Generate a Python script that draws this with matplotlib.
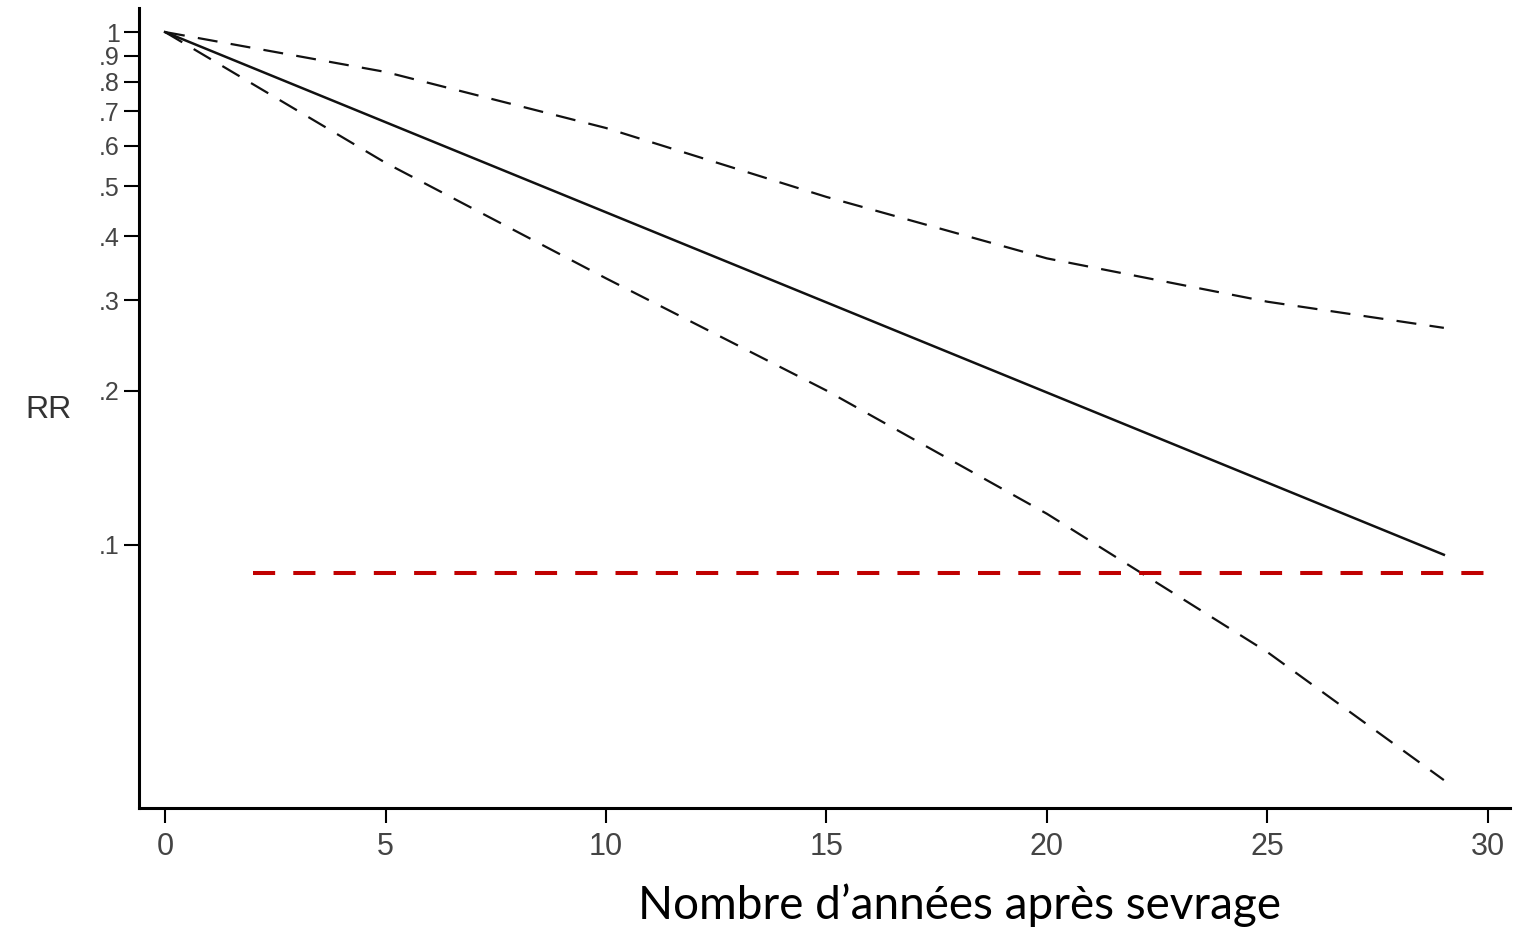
import matplotlib.pyplot as plt

# Years after quitting, and relative risk
fit_years = [0, 29]
rr_fit = [1.0, 0.0957]

years = [0, 5, 10, 15, 20, 25, 29]
rr_upper = [1.0, 0.836, 0.650, 0.477, 0.362, 0.298, 0.265]
rr_lower = [1.0, 0.556, 0.331, 0.200, 0.115, 0.0618, 0.0348]

ref_x = [2, 30]
ref_y = [0.088, 0.088]

y_ticks = [0.1, 0.2, 0.3, 0.4, 0.5, 0.6, 0.7, 0.8, 0.9, 1.0]
y_labels = [".1", ".2", ".3", ".4", ".5", ".6", ".7", ".8", ".9", "1"]
x_ticks = [0, 5, 10, 15, 20, 25, 30]

sans = ['Liberation Sans Narrow', 'Liberation Sans', 'DejaVu Sans']

fig = plt.figure(figsize=(15.14, 9.4), dpi=100)
ax = fig.add_axes([139 / 1514, 1 - 808 / 940, 1371 / 1514, 800 / 940])

ax.plot(fit_years, rr_fit, color='#111111', linewidth=1.8, linestyle='-')
ax.plot(years, rr_upper, color='#111111', linewidth=1.6, linestyle=(0, (9, 6)))
ax.plot(years, rr_lower, color='#111111', linewidth=1.6, linestyle=(0, (9, 6)))
ax.plot(ref_x, ref_y, color='#C00000', linewidth=2.9, linestyle=(0, (5.5, 4.5)))

ax.set_yscale('log')
ax.set_xlim(-0.59, 30.5)
ax.set_ylim(0.0307, 1.114)
ax.set_yticks(y_ticks)
ax.set_yticklabels(y_labels, family=sans, fontsize=18, color='#444444')
ax.minorticks_off()
ax.set_xticks(x_ticks)
ax.set_xticklabels([str(t) for t in x_ticks], family=sans, fontsize=22, color='#444444')

ax.spines['top'].set_visible(False)
ax.spines['right'].set_visible(False)
ax.spines['left'].set_linewidth(2.2)
ax.spines['bottom'].set_linewidth(2.2)
ax.tick_params(axis='both', direction='out', length=11, width=1.5, color='black')
ax.tick_params(axis='y', pad=3)
ax.tick_params(axis='x', pad=6)

fig.text(48 / 1514, 1 - 410 / 940, "RR", family=['Liberation Sans', 'DejaVu Sans'],
         fontsize=23, color='#333333', ha='center', va='center')
fig.text(960 / 1514, 1 - 905 / 940, "Nombre d\u2019années après sevrage",
         family=['Lato', 'DejaVu Sans'], fontsize=33, color='black', ha='center', va='center')

fig.savefig('out.png', dpi=100)
